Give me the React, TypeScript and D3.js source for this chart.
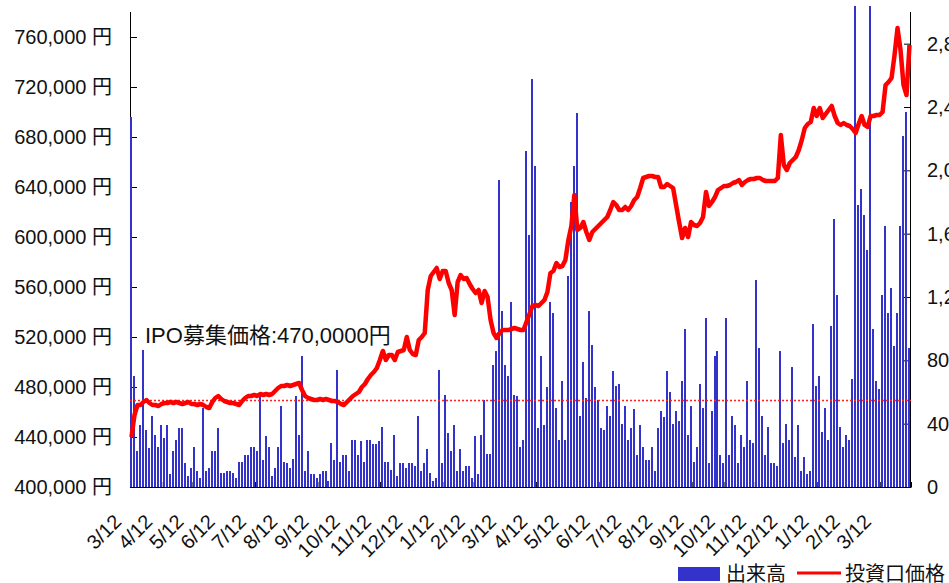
import React, { useEffect, useRef } from "react";
import * as d3 from "d3";

// daily-ish volume (units of the right axis)
const volumes = [
  2340, 700, 230, 390, 865, 360, 245, 450, 330, 250,
  390, 310, 390, 85, 230, 300, 370, 370, 150, 70,
  120, 250, 100, 60, 500, 100, 120, 230, 230, 370,
  90, 90, 100, 100, 90, 60, 160, 160, 200, 200,
  250, 250, 230, 575, 170, 320, 250, 70, 120, 250,
  510, 160, 150, 120, 180, 575, 330, 830, 100, 230,
  80, 80, 60, 80, 100, 100, 40, 280, 170, 740,
  160, 200, 200, 100, 300, 300, 200, 290, 160, 300,
  300, 270, 270, 290, 380, 160, 160, 110, 330, 70,
  150, 150, 120, 150, 150, 130, 450, 100, 150, 240,
  90, 40, 60, 740, 150, 580, 340, 230, 390, 100,
  240, 100, 130, 130, 60, 320, 80, 330, 550, 210,
  210, 770, 860, 1940, 1110, 770, 700, 1170, 580, 575,
  250, 300, 2120, 1590, 2580, 2030, 370, 830, 390, 630,
  1170, 1100, 500, 300, 670, 300, 1330, 1800, 2030, 2360,
  450, 790, 560, 1110, 900, 630, 550, 370, 360, 510,
  450, 730, 640, 650, 400, 510, 300, 370, 490, 200,
  390, 250, 170, 170, 250, 100, 370, 480, 440, 730,
  600, 400, 480, 420, 670, 1000, 330, 510, 160, 250,
  650, 500, 1070, 150, 480, 830, 860, 200, 150, 1070,
  200, 450, 390, 150, 330, 250, 670, 300, 280, 1310,
  880, 450, 200, 380, 150, 150, 130, 860, 280, 400,
  300, 760, 190, 390, 100, 190, 80, 100, 1030, 640,
  700, 350, 500, 300, 1020, 1690, 1210, 380, 250, 330,
  300, 680, 3200, 1780, 1880, 1720, 1500, 3200, 1000, 670,
  620, 1210, 1650, 1100, 1260, 890, 1100, 1650, 2220, 2370,
  880,
];

// unit price (yen), same positions as the volumes
const prices = [
  440000, 457600, 465600, 465600, 468000, 469600, 467200, 465600, 465600, 464800,
  466400, 467200, 467200, 468000, 467200, 468000, 467200, 466400, 467200, 468000,
  466400, 466400, 465600, 466400, 465600, 464000, 463200, 468000, 471200, 472800,
  470400, 468800, 468000, 467200, 467200, 466400, 465600, 468800, 471200, 472800,
  472800, 473600, 472800, 474400, 473600, 474400, 473600, 474400, 476800, 479200,
  480800, 480800, 481600, 480800, 481600, 482400, 483200, 477600, 472800, 471200,
  470400, 469600, 469600, 470400, 469600, 470400, 469600, 468800, 468800, 468000,
  466400, 465600, 468000, 470400, 472800, 474400, 476000, 480000, 482400, 486400,
  489600, 492000, 495200, 501600, 508800, 501600, 505600, 505600, 501600, 508000,
  508800, 509600, 520000, 509600, 506400, 505600, 517600, 520000, 523200, 557600,
  568800, 572000, 575200, 566400, 572800, 572800, 563200, 557600, 537600, 564000,
  569600, 566400, 567200, 562400, 558400, 555200, 557600, 547200, 556800, 552000,
  533600, 523200, 519200, 523200, 525600, 525600, 525600, 526400, 527200, 526400,
  525600, 525600, 532000, 538400, 544800, 545600, 544800, 547200, 549600, 556000,
  571200, 572800, 579200, 576000, 576800, 581600, 597600, 608800, 633600, 605600,
  607200, 612000, 604000, 597600, 604000, 606400, 608800, 611200, 613600, 616000,
  621600, 628000, 625600, 621600, 621600, 624000, 621600, 624800, 629600, 632000,
  639200, 647200, 648000, 648800, 648800, 648000, 648000, 640000, 640000, 642400,
  640800, 639200, 625600, 612000, 599200, 607200, 600000, 612000, 609600, 608800,
  611200, 616000, 636000, 624800, 628000, 632000, 637600, 639200, 640800, 640800,
  641600, 643200, 644000, 645600, 641600, 644000, 645600, 646400, 646400, 647200,
  647200, 645600, 644800, 644800, 644800, 644800, 647200, 681600, 657600, 653600,
  659200, 661600, 664000, 669600, 677600, 687200, 690400, 692000, 703200, 696800,
  703200, 695200, 698400, 701600, 704800, 696800, 691200, 689600, 691200, 689600,
  688800, 686400, 683200, 690400, 696800, 689600, 688000, 696800, 696800, 697600,
  697600, 700000, 721600, 724000, 727200, 745600, 767200, 749600, 721600, 713600,
  753600,
];

const monthLabels = [
  "3/12", "4/12", "5/12", "6/12", "7/12", "8/12", "9/12", "10/12", "11/12", "12/12",
  "1/12", "2/12", "3/12", "4/12", "5/12", "6/12", "7/12", "8/12", "9/12", "10/12",
  "11/12", "12/12", "1/12", "2/12", "3/12",
];
const priceTicks = [400000, 440000, 480000, 520000, 560000, 600000, 640000, 680000, 720000, 760000];
const volumeTicks = [0, 400, 800, 1200, 1600, 2000, 2400, 2800];
const ipoPrice = 470000;

const FONT = '"Liberation Sans", Arial, "Noto Sans CJK JP", sans-serif';

export default function App() {
  const ref = useRef<SVGSVGElement>(null);

  useEffect(() => {
    const svg = d3.select(ref.current);
    svg.selectAll("*").remove();

    const left = 130,
      right = 911,
      top = 12,
      bottom = 487;
    const n = volumes.length;

    const x = d3.scaleLinear().domain([0, n]).range([left, right]);
    const months = d3.scaleLinear().domain([0, monthLabels.length]).range([left, right]);
    const yPrice = d3.scaleLinear().domain([400000, 780000]).range([bottom, top]);
    const yVol = d3.scaleLinear().domain([0, 3000]).range([bottom, top]);

    svg
      .append("defs")
      .append("clipPath")
      .attr("id", "plot")
      .append("rect")
      .attr("x", left)
      .attr("y", 6)
      .attr("width", right - left)
      .attr("height", bottom - 6);

    // axes
    const fmt = d3.format(",");
    const leftAxis = svg
      .append("g")
      .attr("transform", `translate(${left},0)`)
      .call(
        d3
          .axisLeft(yPrice)
          .tickValues(priceTicks)
          .tickSizeInner(-7)
          .tickSizeOuter(0)
          .tickPadding(18)
          .tickFormat((d) => fmt(d as number) + " 円")
      );
    const rightAxis = svg
      .append("g")
      .attr("transform", `translate(${right},0)`)
      .call(
        d3
          .axisRight(yVol)
          .tickValues(volumeTicks)
          .tickSizeInner(-7)
          .tickSizeOuter(0)
          .tickPadding(16)
          .tickFormat((d) => fmt(d as number))
      );
    const bottomAxis = svg
      .append("g")
      .attr("transform", `translate(0,${bottom})`)
      .call(
        d3
          .axisBottom(months)
          .tickValues(d3.range(monthLabels.length + 1))
          .tickSizeInner(-5)
          .tickSizeOuter(0)
          .tickFormat((d) => monthLabels[d as number] || "")
      );
    [leftAxis, rightAxis, bottomAxis].forEach((g) => {
      g.attr("font-family", FONT).attr("font-size", 20);
      g.selectAll("path, line").attr("stroke", "#000");
      g.selectAll("text").attr("fill", "#111");
    });
    leftAxis.select(".domain").attr("d", `M0.5,${bottom}V${top}`);
    rightAxis.select(".domain").attr("d", `M-0.5,${bottom}V${top}`);
    bottomAxis
      .selectAll("text")
      .attr("x", 0)
      .attr("y", 0)
      .attr("dy", 0)
      .attr("text-anchor", "end")
      .attr("transform", "translate(-8,36) rotate(-45)");

    // volume bars
    svg
      .append("g")
      .attr("clip-path", "url(#plot)")
      .selectAll("rect")
      .data(volumes)
      .enter()
      .append("rect")
      .attr("x", (d, i) => Math.round(x(i)))
      .attr("y", (d) => yVol(d))
      .attr("width", 2)
      .attr("height", (d) => bottom - yVol(d))
      .attr("fill", "#3333cc")
      .attr("shape-rendering", "crispEdges");

    // IPO price reference line
    svg
      .append("line")
      .attr("x1", left)
      .attr("x2", right)
      .attr("y1", Math.round(yPrice(ipoPrice)) + 0.5)
      .attr("y2", Math.round(yPrice(ipoPrice)) + 0.5)
      .attr("stroke", "#ff2020")
      .attr("stroke-width", 1.3)
      .attr("stroke-dasharray", "2,2");

    // price line
    const line = d3
      .line<number>()
      .x((d, i) => x(i + 0.5))
      .y((d) => yPrice(d));
    svg
      .append("path")
      .attr("d", line(prices))
      .attr("fill", "none")
      .attr("stroke", "#ff0000")
      .attr("stroke-width", 4.5)
      .attr("stroke-linejoin", "round");

    svg
      .append("text")
      .attr("x", 145)
      .attr("y", 343)
      .attr("font-family", FONT)
      .attr("font-size", 22)
      .attr("fill", "#111")
      .text("IPO募集価格:470,0000円");

    // legend
    const legend = svg.append("g").attr("font-family", FONT).attr("font-size", 20).attr("fill", "#111");
    legend.append("rect").attr("x", 678).attr("y", 567).attr("width", 42).attr("height", 14).attr("fill", "#3333cc");
    legend.append("text").attr("x", 726).attr("y", 581).text("出来高");
    legend
      .append("line")
      .attr("x1", 797)
      .attr("x2", 841)
      .attr("y1", 573)
      .attr("y2", 573)
      .attr("stroke", "#ff0000")
      .attr("stroke-width", 3);
    legend.append("text").attr("x", 845).attr("y", 581).text("投資口価格");
  }, []);

  return (
    <svg
      ref={ref}
      width={949}
      height={583}
      style={{ position: "absolute", left: 0, top: 0, background: "#fff" }}
    />
  );
}
